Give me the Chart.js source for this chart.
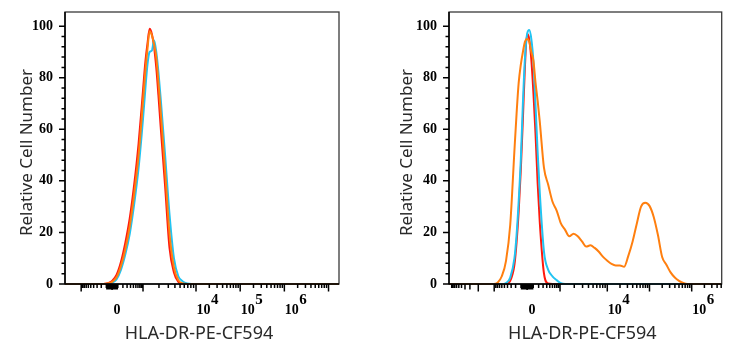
<!DOCTYPE html>
<html>
<head>
<meta charset="utf-8">
<title>HLA-DR-PE-CF594</title>
<script src="https://cdn.jsdelivr.net/npm/chart.js@4.4.1/dist/chart.umd.min.js"></script>
<style>
  html, body { margin: 0; padding: 0; background: #fff; }
  #wrap { display: flex; width: 736px; height: 350px; }
  canvas { display: block; }
</style>
</head>
<body>
<div id="wrap">
  <canvas id="histL" width="368" height="350"></canvas>
  <canvas id="histR" width="368" height="350"></canvas>
</div>
<script>
// x is the display position on the biexponential axis: 10^4 sits at 4, 10^5 at 5 ...
const leftX      = [1.03, 1.9, 2.0, 2.1, 2.2, 2.3, 2.4, 2.5, 2.6, 2.7, 2.8, 2.85, 2.9, 2.95, 3.0, 3.05, 3.1, 3.15, 3.2, 3.3, 3.4, 3.5, 3.6, 3.7, 3.8, 3.9, 4.0, 7.24]
const leftRed    = [0, 0, 0.3, 1.2, 3.5, 8.5, 16, 25.5, 38.5, 54.5, 75, 85.5, 93, 99, 97, 92, 84, 73, 61, 38, 14, 4.5, 0.8, 0, 0, 0, 0, 0]
const leftOrange = [0, 0, 0.2, 0.8, 2.6, 7, 13.5, 22.5, 35, 50, 71, 82, 91, 98, 96.5, 93, 88, 78, 67, 44, 19.5, 6.5, 1.5, 0.2, 0, 0, 0, 0]
const leftCyan   = [0, 0, 0, 0.5, 1.8, 5.5, 11.5, 19.5, 31, 45, 64, 75, 85, 90, 90.5, 94.5, 90, 82, 72, 50, 27, 10, 3, 1, 0.2, 0, 0, 0]

const rightX      = [0.25, 1.0, 1.3, 1.4, 1.5, 1.6, 1.7, 1.8, 1.85, 1.9, 1.95, 2.0, 2.05, 2.1, 2.15, 2.2, 2.25, 2.3, 2.35, 2.4, 2.5, 2.6, 2.7, 2.8, 2.9, 3.0, 3.1, 3.2, 3.3, 3.4, 3.5, 3.6, 3.7, 3.8, 3.9, 4.0, 4.1, 4.2, 4.3, 4.4, 4.5, 4.6, 4.7, 4.8, 4.9, 5.0, 5.1, 5.2, 5.3, 5.4, 5.5, 5.6, 5.7, 5.8, 5.9, 6.71]
const rightRed    = [0, 0, 0, 0, 0, 0, 1.2, 7.5, 16, 28, 44, 64, 85, 97, 95, 87, 74, 58, 39, 24, 4, 0.2, 0, 0, 0, 0, 0, 0, 0, 0, 0, 0, 0, 0, 0, 0, 0, 0, 0, 0, 0, 0, 0, 0, 0, 0, 0, 0, 0, 0, 0, 0, 0, 0, 0, 0]
const rightOrange = [0, 0, 0, 0.5, 3, 9, 23, 52, 66, 78, 85, 90, 94, 95, 94, 90, 86.5, 78, 71, 63, 45, 38.5, 32, 28.5, 23.5, 21, 18.5, 19.5, 18.5, 16.5, 14.5, 15, 14, 12.5, 10.5, 9, 7.8, 7.2, 7.2, 6.7, 11, 16.5, 23.5, 30, 31.5, 30.3, 26, 19, 10.5, 7.5, 4.5, 2.5, 1.2, 0.4, 0, 0]
const rightCyan   = [0, 0, 0, 0, 0, 0.4, 2.5, 10, 19, 32, 48, 70, 88, 97, 98.5, 95, 86, 69, 51, 35.5, 12.5, 5.5, 3, 1.5, 0.3, 0, 0, 0, 0, 0, 0, 0, 0, 0, 0, 0, 0, 0, 0, 0, 0, 0, 0, 0, 0, 0, 0, 0, 0, 0, 0, 0, 0, 0, 0, 0]

const yTickValues = [0, 20, 40, 60, 80, 100]

// labelled decades and where the decade marks fall on each axis
const leftTickText  = ['0', '10^4', '10^5', '10^6']
const leftTickAt    = [2.1, 4, 5, 6]
const leftDecades   = [2.8, 4, 5, 6, 7]
const rightTickText = ['0', '10^4', '10^6']
const rightTickAt   = [2.1, 4, 6]
const rightDecades  = [2.88, 4, 5, 6]

const RED = '#ff1a0d'
const ORANGE = '#ff7f0f'
const CYAN = '#22c4f2'

// tick marks of a logicle style axis: linear-ish around zero, log decades above
function axisMarks(zero, decades, negDecade)
{
    const marks = []
    const half = decades[0] - zero
    const lin = v => Math.asinh(v / 250) / Math.asinh(4)
    const near = [10, 20, 30, 40, 50, 60, 70, 80, 90, 100, 200, 300, 400, 500, 600, 700, 800, 900]
    near.forEach(v => {
        const len = v < 100 ? 5.5 : 4
        marks.push({ at: zero + half * lin(v), len })
        marks.push({ at: zero - half * lin(v), len })
    })
    marks.push({ at: zero, len: 6 })
    marks.push({ at: zero - half, len: 7.5 })
    for (let i = 0; i < decades.length; i++) {
        const p0 = decades[i]
        const span = i + 1 < decades.length ? decades[i + 1] - p0 : p0 - decades[i - 1]
        marks.push({ at: p0, len: 7.5 })
        for (let k = 2; k <= 9; k++) marks.push({ at: p0 + span * Math.log10(k), len: 4 })
    }
    if (negDecade) {
        marks.push({ at: negDecade[0], len: 7.5 })
        for (let k = 2; k <= 9; k++) marks.push({ at: negDecade[0] - negDecade[1] * Math.log10(k), len: k < 4 ? 5.5 : 4 })
    }
    return marks
}

function flowAxes(cfg)
{
    return {
        id: 'flowAxes',
        afterDatasetsDraw(chart) {
            const { ctx, chartArea: a, scales: { x, y } } = chart
            ctx.save()

            // frame
            ctx.strokeStyle = '#3a3a3a'
            ctx.lineWidth = 1.3
            ctx.strokeRect(a.left, a.top, a.right - a.left, a.bottom - a.top)

            // axis lines and tick marks
            ctx.strokeStyle = '#000'
            ctx.lineWidth = 1.5
            ctx.beginPath()
            ctx.moveTo(a.left, a.top)
            ctx.lineTo(a.left, a.bottom)
            ctx.lineTo(a.right, a.bottom)
            for (let v = 0; v <= 100; v += 4) {
                const py = y.getPixelForValue(v)
                ctx.moveTo(a.left, py)
                ctx.lineTo(a.left - (v % 20 ? 3.5 : 6), py)
            }
            cfg.marks.forEach(m => {
                if (m.at < x.min || m.at > x.max) return
                const px = x.getPixelForValue(m.at)
                ctx.moveTo(px, a.bottom)
                ctx.lineTo(px, a.bottom + m.len)
            })
            ctx.stroke()

            // y tick labels
            ctx.fillStyle = '#000'
            ctx.font = 'bold 14px "Liberation Serif"'
            ctx.textAlign = 'right'
            ctx.textBaseline = 'middle'
            yTickValues.forEach(v => ctx.fillText(String(v), a.left - 12, y.getPixelForValue(v)))

            // x tick labels, powers of ten with a raised exponent
            ctx.textAlign = 'left'
            ctx.textBaseline = 'alphabetic'
            cfg.tickText.forEach((t, i) => {
                const px = x.getPixelForValue(cfg.tickAt[i])
                const [base, exp] = t.split('^')
                ctx.font = 'bold 14px "Liberation Serif"'
                ctx.fillText(base, px + (exp ? 0.5 : 1.5), a.bottom + 29.5)
                if (exp) {
                    const w = ctx.measureText(base).width
                    ctx.font = 'bold 15px "Liberation Serif"'
                    ctx.fillText(exp, px + 1 + w, a.bottom + 19.5)
                }
            })

            // axis titles
            ctx.fillStyle = '#2a2a2a'
            ctx.textAlign = 'center'
            ctx.font = '18px "Noto Sans"'
            ctx.fillText('HLA-DR-PE-CF594', (a.left + a.right) / 2 - 3, a.bottom + 54.5)
            ctx.save()
            ctx.translate(a.left - cfg.yTitleGap, (a.top + a.bottom) / 2 + 4.5)
            ctx.rotate(-Math.PI / 2)
            ctx.font = '17px "Noto Sans"'
            ctx.fillText('Relative Cell Number', 0, 0)
            ctx.restore()

            ctx.restore()
        }
    }
}

function histogram(id, xs, reds, oranges, cyans, cfg)
{
    const line = (ys, color) => ({
        data: xs.map((x, i) => ({ x, y: ys[i] })),
        borderColor: color,
        borderWidth: 2,
        pointRadius: 0,
        fill: false,
        cubicInterpolationMode: 'monotone',
        clip: { left: 0, top: 0, right: 0, bottom: 2 }
    })
    return new Chart(document.getElementById(id), {
        type: 'line',
        data: {
            datasets: [line(oranges, ORANGE), line(cyans, CYAN), line(reds, RED)]
        },
        options: {
            responsive: false,
            animation: false,
            devicePixelRatio: 1,
            layout: { autoPadding: false, padding: { left: 0, right: cfg.padRight, top: 12, bottom: 0 } },
            plugins: { legend: { display: false }, tooltip: { enabled: false } },
            scales: {
                x: {
                    type: 'linear', min: cfg.min, max: cfg.max,
                    grid: { display: false, drawTicks: false },
                    border: { display: false },
                    ticks: { display: false },
                    afterFit: s => { s.height = 66 }
                },
                y: {
                    min: 0, max: 105.5,
                    grid: { display: false, drawTicks: false },
                    border: { display: false },
                    ticks: { display: false },
                    afterFit: s => { s.width = cfg.axisWidth }
                }
            }
        },
        plugins: [flowAxes(cfg)]
    })
}

histogram('histL', leftX, leftRed, leftOrange, leftCyan, {
    min: 1.034, max: 7.237, axisWidth: 65, padRight: 29, yTitleGap: 33.5,
    marks: axisMarks(2.1, leftDecades),
    tickText: leftTickText, tickAt: leftTickAt
})

histogram('histR', rightX, rightRed, rightOrange, rightCyan, {
    min: 0.249, max: 6.711, axisWidth: 81, padRight: 14.3, yTitleGap: 37.5,
    marks: axisMarks(2.1, rightDecades, [0.943, 0.66]),
    tickText: rightTickText, tickAt: rightTickAt
})
</script>
</body>
</html>
